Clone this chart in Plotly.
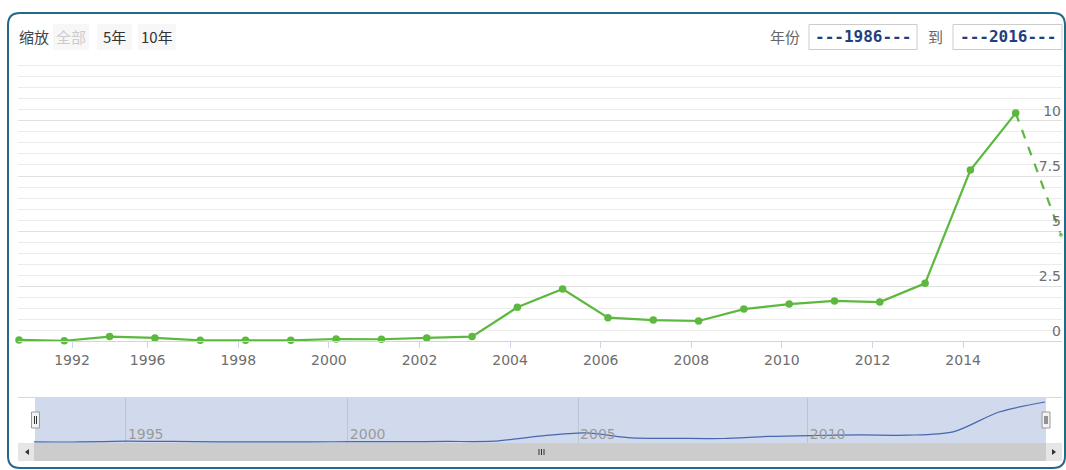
import plotly.graph_objects as go

# ---------------- data ----------------
years = list(range(1993, 2017))
values = [0.05, 0.01, 0.20, 0.14, 0.03, 0.03, 0.03, 0.09, 0.08, 0.14, 0.20,
          1.53, 2.36, 1.06, 0.95, 0.91, 1.45, 1.68, 1.82, 1.77, 2.62,
          7.77, 10.36, 4.82]
x_tick_labels = ["1992", "1996", "1998", "2000", "2002", "2004", "2006",
                 "2008", "2010", "2012", "2014", "2016"]
y_tick_values = [0, 2.5, 5, 7.5, 10]
y_tick_labels = ["0", "2.5", "5", "7.5", "10"]
nav_tick_labels = ["1995", "2000", "2005", "2010"]
zoom_label = "缩放"
zoom_buttons = ["全部", "5年", "10年"]
range_label_from = "年份"
range_label_to = "到"
range_from = "---1986---"
range_to = "---2016---"

# ---------------- layout helpers ----------------
W, H = 1066, 470
def px(x):
    return x / W
def py(y):
    return 1 - y / H

GREEN = "#5cb83e"
NUMFONT = "DejaVu Sans, sans-serif"
CJK = "Noto Sans CJK SC, sans-serif"

# tick positions (axis styling)
main_tick_pos = [1994.17] + [y - 0.16 for y in range(1996, 2017, 2)]
nav_tick_pos = [1995.0, 1999.83, 2004.84, 2009.84]

fig = go.Figure()

# main series (solid part)
fig.add_trace(go.Scatter(
    x=years[:-1], y=values[:-1], mode="lines+markers",
    line=dict(color=GREEN, width=2.2),
    marker=dict(color=GREEN, size=7.5),
    cliponaxis=False, hoverinfo="x+y", showlegend=False,
    xaxis="x", yaxis="y"))
# main series (dashed last segment)
fig.add_trace(go.Scatter(
    x=years[-2:], y=values[-2:], mode="lines+markers",
    line=dict(color=GREEN, width=2.2, dash="dash"),
    marker=dict(color=GREEN, size=[0, 5]),
    cliponaxis=False, hoverinfo="x+y", showlegend=False,
    xaxis="x", yaxis="y"))
# navigator series
fig.add_trace(go.Scatter(
    x=years[:-1], y=values[:-1], mode="lines",
    line=dict(color="#4766ad", width=1.2, shape="spline", smoothing=0.8),
    hoverinfo="skip", showlegend=False,
    xaxis="x2", yaxis="y2"))

shapes = []
# navigator mask
shapes.append(dict(type="rect", xref="paper", yref="paper", layer="below",
                   x0=px(35), x1=px(1046), y0=py(443), y1=py(397),
                   fillcolor="rgba(102,133,194,0.3)", line=dict(width=0)))
# navigator outline
shapes.append(dict(type="line", xref="paper", yref="paper",
                   x0=px(18), x1=px(1062), y0=py(397.5), y1=py(397.5),
                   line=dict(color="#d8d8d8", width=1)))
# scrollbar
shapes.append(dict(type="rect", xref="paper", yref="paper",
                   x0=px(18), x1=px(1062), y0=py(461), y1=py(443),
                   fillcolor="#e6e6e6", line=dict(width=0)))
shapes.append(dict(type="rect", xref="paper", yref="paper",
                   x0=px(34), x1=px(1046), y0=py(461), y1=py(443),
                   fillcolor="#cccccc", line=dict(width=0)))
for gx in (539, 541.5, 544):
    shapes.append(dict(type="line", xref="paper", yref="paper",
                       x0=px(gx), x1=px(gx), y0=py(449), y1=py(455),
                       line=dict(color="#333333", width=1)))
shapes.append(dict(type="path", xref="paper", yref="paper",
                   path=f"M {px(25)},{py(452)} L {px(29)},{py(449)} L {px(29)},{py(455)} Z",
                   fillcolor="#333333", line=dict(width=0)))
shapes.append(dict(type="path", xref="paper", yref="paper",
                   path=f"M {px(1056)},{py(452)} L {px(1052)},{py(449)} L {px(1052)},{py(455)} Z",
                   fillcolor="#333333", line=dict(width=0)))
# navigator handles
for hx in (35.5, 1046):
    shapes.append(dict(type="rect", xref="paper", yref="paper",
                       x0=px(hx - 4), x1=px(hx + 4), y0=py(428), y1=py(412),
                       fillcolor="#f2f2f2", line=dict(color="#999999", width=1)))
    for lx in (hx - 1, hx + 1):
        shapes.append(dict(type="line", xref="paper", yref="paper",
                           x0=px(lx), x1=px(lx), y0=py(416), y1=py(424),
                           line=dict(color="#333333", width=1)))
# zoom buttons backgrounds
for x0, x1 in ((53, 89), (97, 132), (138, 176)):
    shapes.append(dict(type="rect", xref="paper", yref="paper",
                       x0=px(x0), x1=px(x1), y0=py(50), y1=py(24),
                       fillcolor="#f7f7f7", line=dict(width=0)))
# range input boxes
for x0, x1 in ((809, 917), (953, 1062)):
    shapes.append(dict(type="rect", xref="paper", yref="paper",
                       x0=px(x0), x1=px(x1), y0=py(49.5), y1=py(24.5),
                       fillcolor="rgba(0,0,0,0)", line=dict(color="#cccccc", width=1)))
# outer rounded border
L, T, R, B, r = 8, 13, 1065, 468, 12
path = (f"M {px(L + r)},{py(T)} L {px(R - r)},{py(T)} "
        f"Q {px(R)},{py(T)} {px(R)},{py(T + r)} L {px(R)},{py(B - r)} "
        f"Q {px(R)},{py(B)} {px(R - r)},{py(B)} L {px(L + r)},{py(B)} "
        f"Q {px(L)},{py(B)} {px(L)},{py(B - r)} L {px(L)},{py(T + r)} "
        f"Q {px(L)},{py(T)} {px(L + r)},{py(T)} Z")
shapes.append(dict(type="path", xref="paper", yref="paper", path=path,
                   line=dict(color="#22698a", width=2)))

annotations = []
def note(text, x, y, color, size=14, family=CJK):
    annotations.append(dict(text=text, x=px(x), y=py(y), xref="paper", yref="paper",
                            showarrow=False, xanchor="center", yanchor="middle",
                            font=dict(color=color, size=size, family=family)))
note(zoom_label, 34, 37, "#444444", size=15)
for label, cx, col in zip(zoom_buttons, (71, 114.5, 157), ("#cccccc", "#333333", "#333333")):
    note(label, cx, 37, col, size=15)
note(range_label_from, 785, 37, "#666666", size=15)
note(range_label_to, 935, 37, "#666666", size=15)
note(f"<b>{range_from}</b>", 863, 37, "#1f3f80", size=16, family="DejaVu Sans Mono")
note(f"<b>{range_to}</b>", 1008, 37, "#1f3f80", size=16, family="DejaVu Sans Mono")

fig.update_layout(
    width=W, height=H, autosize=False,
    margin=dict(l=0, r=0, t=0, b=0),
    paper_bgcolor="white", plot_bgcolor="rgba(0,0,0,0)",
    font=dict(family=NUMFONT, size=14, color="#666666"),
    showlegend=False, hovermode="closest",
    shapes=shapes, annotations=annotations,
    xaxis=dict(domain=[px(18), px(1062)], range=[1992.978, 2016.022],
               anchor="y", tickmode="array", tickvals=main_tick_pos, ticktext=x_tick_labels,
               ticks="outside", ticklen=6, tickcolor="#ccd6eb",
               showline=True, linecolor="#ccd6eb", linewidth=1,
               showgrid=False, zeroline=False, fixedrange=True,
               tickfont=dict(family=NUMFONT, size=14, color="#6e6e6e")),
    yaxis=dict(domain=[py(341), py(63)], range=[0, 12.636], anchor="x",
               side="right", tickmode="array", tickvals=y_tick_values, ticktext=y_tick_labels,
               ticklabelposition="inside top", ticks="", ticklabelstandoff=-2,
               showgrid=True, gridcolor="#e0e0e0", gridwidth=1,
               minor=dict(dtick=0.5, tick0=0, showgrid=True, gridcolor="#ebebeb", ticks=""),
               zeroline=False, showline=False, fixedrange=True,
               tickfont=dict(family=NUMFONT, size=14, color="#6e6e6e")),
    xaxis2=dict(domain=[px(18), px(1062)], range=[1992.652, 2015.37],
                anchor="y2", tickmode="array", tickvals=nav_tick_pos, ticktext=nav_tick_labels,
                ticklabelposition="inside right", ticks="", ticklabelstandoff=-5,
                ticklabelshift=2,
                showgrid=True, gridcolor="#bcc5d6", gridwidth=1,
                showline=False, zeroline=False, fixedrange=True,
                tickfont=dict(family=NUMFONT, size=14, color="#9a9a9a")),
    yaxis2=dict(domain=[py(443), py(397)], range=[-0.26, 11.66], anchor="x2",
                showgrid=False, showticklabels=False, zeroline=False,
                showline=False, ticks="", fixedrange=True),
)

fig.write_html("out.html", config={"displayModeBar": False},
               post_script="document.body.style.margin='0px';document.body.style.overflow='hidden';")
